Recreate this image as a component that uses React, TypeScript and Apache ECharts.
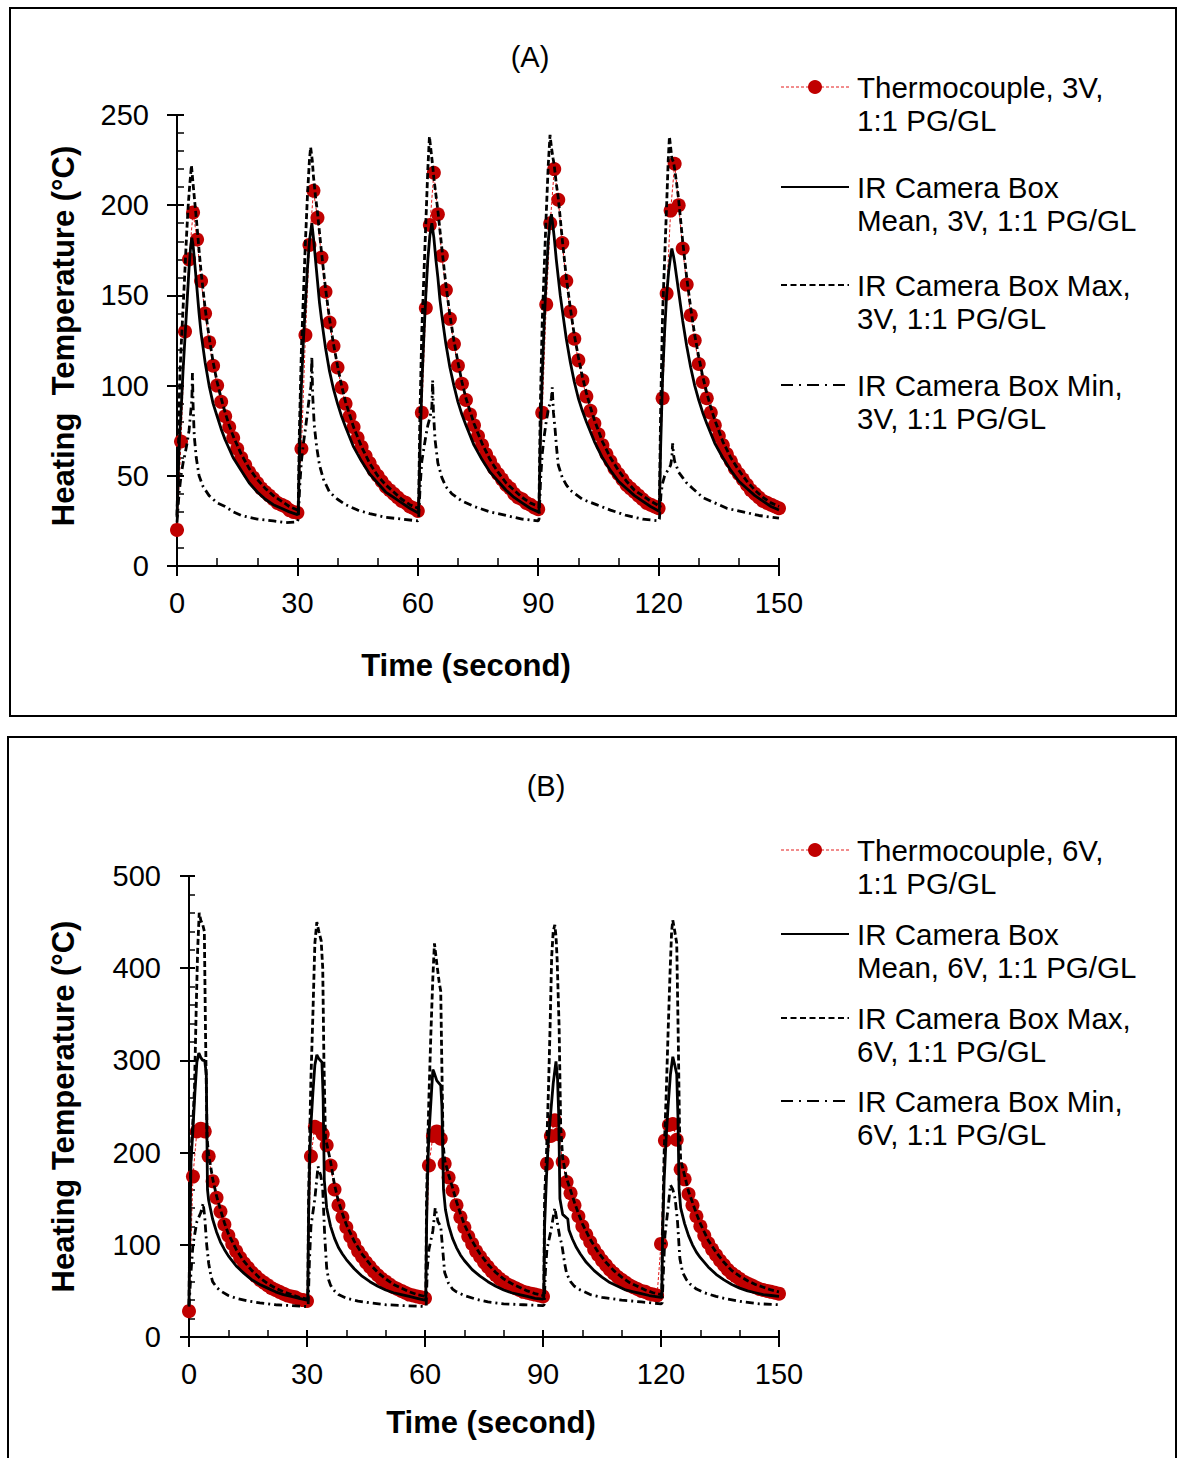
import React, { useEffect, useRef } from 'react';
import * as echarts from 'echarts';

const FONT = '"Liberation Sans", Arial, Helvetica, sans-serif';

// ---------- Panel A (3V) ----------
const A_TITLE = '(A)';
const A_NAMES = ['Thermocouple, 3V,\n1:1 PG/GL', 'IR Camera Box\nMean, 3V, 1:1 PG/GL', 'IR Camera Box Max,\n3V, 1:1 PG/GL', 'IR Camera Box Min,\n3V, 1:1 PG/GL'];
const A_Y_TICKS = { min: 0, max: 250, interval: 50 };

const A_TC: number[][] = [
  [0,20],[1,69],[2,130],[3,170],[4,196],[5,181],[6,158],[7,140],[8,124],[9,111],[10,100],[11,91],[12,83],[13,77],[14,71],[15,65],[16,60],[17,56],[18,52],[19,49],[20,46],[21,43],[22,41],[23,39],[24,37],[25,35],[26,34],[27,33],[28,31],[29,30],[30,29.5],
  [31,65],[32,128],[33,178],[34,208],[35,193],[36,171],[37,152],[38,135],[39,122],[40,110],[41,99],[42,90],[43,83],[44,77],[45,71],[46,66],[47,61],[48,57],[49,53],[50,50],[51,47],[52,44],[53,42],[54,40],[55,38],[56,36],[57,35],[58,33],[59,32],[60,30.5],
  [61,85],[62,143],[63,189],[64,218],[65,195],[66,172],[67,153],[68,137],[69,123],[70,111],[71,101],[72,92],[73,84],[74,78],[75,72],[76,67],[77,62],[78,58],[79,54],[80,51],[81,48],[82,45],[83,43],[84,40],[85,38],[86,37],[87,35],[88,34],[89,32.5],[90,31.5],
  [91,85],[92,145],[93,190],[94,220],[95,203],[96,179],[97,158],[98,141],[99,126],[100,114],[101,103],[102,94],[103,86],[104,79],[105,73],[106,67],[107,62],[108,58],[109,54],[110,51],[111,48],[112,45],[113,43],[114,41],[115,39],[116,37],[117,35],[118,34],[119,33],[120,32],
  [121,93],[122,151],[123,197],[124,223],[125,200],[126,176],[127,156],[128,139],[129,125],[130,112],[131,102],[132,93],[133,85],[134,78],[135,72],[136,67],[137,62],[138,58],[139,54],[140,51],[141,48],[142,45],[143,42],[144,40],[145,38],[146,36],[147,35],[148,34],[149,33],[150,32],
];

const A_MEAN: number[][] = [
  [0,27],[0.3,50],[0.6,70],[1,85],[1.5,108],[2,127],[2.5,146],[3,165],[3.4,177],[3.7,182],[4,178],[4.5,166],[5,153],[5.5,140],[6,129],[7,113],[8,100],[9,90],[10,83],[11,76],[12,70],[14,60],[16,53],[18,46],[20,41],[22,37],[24,34],[26,32],[28,30],[30,28.5],
  [30.2,29],[30.5,60],[31,100],[31.5,125],[32,145],[32.5,165],[33,180],[33.6,190],[34,182],[34.5,170],[35,158],[35.5,146],[36,137],[37,121],[38,108],[39,98],[40,90],[41,83],[42,77],[44,66],[46,58],[48,51],[50,46],[52,41],[54,38],[56,35],[58,32],[60,29.5],
  [60.2,30],[60.5,60],[61,100],[61.5,127],[62,150],[62.5,170],[63,183],[63.5,190],[64,182],[64.5,170],[65,160],[65.5,148],[66,139],[67,123],[68,110],[69,100],[70,91],[71,84],[72,78],[74,67],[76,59],[78,52],[80,47],[82,42],[84,38],[86,35],[88,32],[90,30],
  [90.2,30],[90.5,65],[91,105],[91.5,135],[92,160],[92.5,180],[93,192],[93.3,195],[93.7,188],[94,182],[94.5,170],[95,160],[95.5,150],[96,142],[97,126],[98,113],[99,102],[100,93],[101,86],[102,80],[104,69],[106,60],[108,53],[110,47],[112,43],[114,39],[116,36],[118,33],[120,30.5],
  [120.2,31],[120.5,65],[121,105],[121.5,130],[122,150],[122.5,163],[123,172],[123.3,176],[123.7,172],[124,168],[124.5,160],[125,152],[125.5,144],[126,136],[127,122],[128,110],[129,100],[130,92],[131,85],[132,79],[134,68],[136,60],[138,53],[140,47],[142,43],[144,39],[146,36],[148,33],[150,31],
];

const A_MAX: number[][] = [
  [0,28],[0.3,60],[0.7,105],[1,120],[1.6,147],[2,165],[2.4,184],[2.8,200],[3.2,212],[3.6,222],[4,212],[4.5,200],[5,188],[5.5,175],[6,163],[7,143],[8,127],[9,113],[10,102],[11,93],[12,85],[13,78],[14,72],[16,62],[18,54],[20,48],[22,43],[24,39],[26,36],[28,33],[30,31],
  [30.2,32],[30.5,75],[31,120],[31.5,150],[32,180],[32.5,205],[33,225],[33.3,232],[33.7,225],[34,216],[34.5,205],[35,196],[36,174],[37,154],[38,137],[39,123],[40,111],[41,100],[42,91],[43,84],[44,77],[46,66],[48,57],[50,50],[52,45],[54,41],[56,37],[58,34],[60,32],
  [60.2,32],[60.5,80],[61,130],[61.5,160],[62,190],[62.5,220],[62.9,238],[63.3,230],[63.7,222],[64,215],[64.5,206],[65,197],[66,176],[67,156],[68,139],[69,125],[70,113],[71,102],[72,93],[73,86],[74,79],[76,68],[78,59],[80,52],[82,46],[84,42],[86,38],[88,35],[90,33],
  [90.2,33],[90.5,85],[91,135],[91.5,165],[92,195],[92.5,222],[92.95,239],[93.3,232],[93.7,226],[94,222],[94.5,212],[95,204],[96,181],[97,160],[98,143],[99,128],[100,116],[101,105],[102,96],[103,88],[104,81],[106,69],[108,60],[110,53],[112,47],[114,42],[116,39],[118,36],[120,33.5],
  [120.2,34],[120.5,85],[121,140],[121.5,170],[122,200],[122.4,225],[122.7,238],[123,232],[123.3,226],[123.7,224],[124,220],[124.5,212],[125,203],[126,180],[127,160],[128,143],[129,128],[130,116],[131,105],[132,96],[133,88],[134,81],[136,69],[138,60],[140,53],[142,47],[144,42],[146,38],[148,35],[150,33],
];

const A_MIN: number[][] = [
  [0,24],[0.5,40],[1,50],[1.5,57],[2,62],[2.5,68],[3,75],[3.4,85],[3.7,92],[3.85,107],[4,90],[4.3,72],[4.8,60],[5.5,50],[6.5,44],[8,39],[10,35],[12,33],[14,30],[16,28],[18,27],[20,26],[24,25],[27,24],[30,24.5],
  [30.2,26],[30.6,45],[31,58],[31.5,68],[32,76],[32.5,85],[33,94],[33.4,100],[33.6,116],[33.8,95],[34.2,78],[34.8,66],[35.5,56],[36.5,48],[38,41],[40,37],[42,34],[45,31],[48,29],[52,27],[56,26],[60,25],
  [60.2,26],[60.6,45],[61,58],[61.5,65],[62,72],[62.5,78],[63,82],[63.5,88],[63.7,103],[63.9,85],[64.3,70],[65,57],[66,49],[67,44],[68.5,40],[71,36],[74,33],[78,30],[82,28],[86,26],[90,25],
  [90.2,26],[90.6,48],[91,62],[91.5,72],[92,80],[92.6,88],[93,90],[93.3,93],[93.5,99],[93.8,85],[94.2,76],[94.6,65],[95,56],[96,49],[97,45],[98,42],[101,37],[104.5,34],[108,31],[112,28],[116,26],[120,25],
  [120.2,26],[120.6,40],[121,46],[121.5,50],[122,52],[122.6,54],[123,56],[123.3,60],[123.5,68],[123.7,62],[124,58],[124.5,55],[125,52],[126,49],[127,46],[128.5,43],[131,38],[134,35],[137,32],[141,30],[145,28],[150,26.5],
];

// ---------- Panel B (6V) ----------
const B_TITLE = '(B)';
const B_NAMES = ['Thermocouple, 6V,\n1:1 PG/GL', 'IR Camera Box\nMean, 6V, 1:1 PG/GL', 'IR Camera Box Max,\n6V, 1:1 PG/GL', 'IR Camera Box Min,\n6V, 1:1 PG/GL'];
const B_Y_TICKS = { min: 0, max: 500, interval: 100 };

const B_TC: number[][] = [
  [0,28],[1,174],[2,223],[3,226],[4,223],[5,196],[6,169],[7,151],[8,136],[9,122],[10,110],[11,101],[12,93],[13,86],[14,80],[15,75],[16,70],[17,66],[18,62],[19,59],[20,56],[21,53],[22,51],[23,49],[24,47],[25,45],[26,44],[27,43],[28,41],[29,40],[30,39],
  [31,196],[32,228],[33,226],[34,220],[35,208],[36,186],[37,160],[38,143],[39,130],[40,119],[41,109],[42,101],[43,93],[44,87],[45,81],[46,76],[47,71],[48,67],[49,63],[50,60],[51,57],[52,54],[53,52],[54,50],[55,48],[56,46],[57,45],[58,44],[59,43],[60,42],
  [61,186],[62,218],[63,223],[64,215],[65,188],[66,173],[67,159],[68,143],[69,130],[70,119],[71,109],[72,101],[73,93],[74,87],[75,81],[76,76],[77,71],[78,67],[79,63],[80,60],[81,57],[82,55],[83,53],[84,51],[85,49],[86,48],[87,47],[88,46],[89,45],[90,44],
  [91,188],[92,218],[93,235],[94,220],[95,190],[96,168],[97,156],[98,143],[99,131],[100,120],[101,111],[102,103],[103,95],[104,89],[105,83],[106,78],[107,73],[108,69],[109,65],[110,62],[111,59],[112,56],[113,54],[114,52],[115,50],[116,49],[117,47],[118,46],[119,45],
  [120,101],[121,213],[122,230],[123,231],[124,214],[125,182],[126,171],[127,155],[128,143],[129,131],[130,120],[131,110],[132,102],[133,95],[134,89],[135,83],[136,78],[137,73],[138,69],[139,66],[140,63],[141,60],[142,58],[143,56],[144,54],[145,52],[146,51],[147,50],[148,49],[149,48],[150,47],
];

const B_MEAN: number[][] = [
  [0,35],[0.2,110],[0.5,190],[1,225],[1.5,265],[2,298],[2.5,308],[3,303],[3.5,300],[4,300],[4.4,285],[4.7,160],[5,148],[6,128],[7,114],[8,103],[9,95],[10,88],[12,77],[14,69],[16,62],[18,57],[20,53],[22,49],[24,46],[26,44],[28,42],[30,40],
  [30.2,40],[30.4,130],[30.7,195],[31,230],[31.5,265],[32,295],[32.5,306],[33,302],[33.8,298],[34.1,260],[34.4,170],[35,140],[36,120],[37,107],[38,97],[39,90],[40,84],[42,74],[44,66],[46,60],[48,55],[50,51],[52,48],[54,46],[56,44],[58,42],[60,40],
  [60.2,41],[60.4,120],[60.7,185],[61,220],[61.5,255],[62,290],[62.3,287],[63,278],[64,273],[64.3,250],[64.7,160],[65.2,138],[66,121],[67,107],[68,97],[69,89],[70,83],[72,73],[74,66],[76,60],[78,55],[80,51],[82,48],[84,46],[86,44],[88,42],[90,41],
  [90.2,42],[90.4,120],[90.9,175],[91.4,215],[92,245],[92.6,275],[93.3,299],[93.7,280],[94,240],[94.3,150],[95,133],[96.3,128],[96.6,116],[97.5,106],[98.5,97],[99.5,90],[101,81],[103,72],[105,65],[107,59],[109,55],[111,51],[113,49],[115,47],[117,45],[120,43],
  [120.2,43],[120.4,110],[120.8,170],[121.3,215],[121.8,250],[122.4,285],[123,304],[123.5,295],[124,285],[124.3,240],[124.6,160],[125,140],[126,123],[127,110],[128,100],[129,92],[130,86],[132,76],[134,68],[136,62],[138,57],[140,53],[142,50],[144,48],[146,46],[148,45],[150,44],
];

const B_MAX: number[][] = [
  [0,35],[0.2,120],[0.5,200],[1,235],[1.4,270],[1.8,350],[2.2,420],[2.6,460],[3,452],[3.5,447],[3.9,440],[4.2,330],[4.6,215],[5,198],[6,172],[7,153],[8,138],[9,124],[10,112],[12,95],[14,82],[16,72],[18,64],[20,58],[22,53],[24,49],[26,46],[28,43],[30,41],
  [30.2,42],[30.4,150],[30.7,220],[31,280],[31.5,350],[32,427],[32.5,450],[33,440],[33.6,430],[34,400],[34.3,300],[34.7,215],[35,210],[36,190],[37,165],[38,147],[39,134],[40,122],[42,104],[44,90],[46,79],[48,70],[50,63],[52,57],[54,53],[56,49],[58,46],[60,44],
  [60.2,43],[60.4,150],[60.7,210],[61,260],[61.5,330],[62,390],[62.4,427],[63,405],[63.6,385],[64,375],[64.3,290],[64.6,210],[65,192],[66,176],[67,162],[68,147],[69,134],[70,122],[72,104],[74,90],[76,79],[78,70],[80,63],[82,58],[84,54],[86,50],[88,47],[90,45],
  [90.2,45],[90.4,150],[90.9,200],[91.4,270],[91.8,336],[92.2,412],[92.6,440],[93,447],[93.3,435],[93.6,409],[94.1,336],[94.5,228],[95,194],[96,172],[97,159],[98,146],[99,134],[100,123],[102,106],[104,92],[106,81],[108,72],[110,65],[112,59],[114,55],[116,51],[118,48],[120,46],
  [120.2,46],[120.4,120],[120.8,200],[121.3,260],[121.8,330],[122.3,395],[122.7,440],[123,452],[123.5,440],[124,427],[124.4,320],[124.7,228],[125,192],[126,175],[127,158],[128,146],[129,134],[130,123],[132,105],[134,92],[136,81],[138,72],[140,66],[142,61],[144,57],[146,54],[148,51],[150,49],
];

const B_MIN: number[][] = [
  [0,33],[0.5,70],[1,100],[2,125],[3,135],[3.6,145],[4,130],[4.5,100],[5,80],[5.5,68],[6,60],[7,54],[8,50],[10,45],[12,42],[15,39],[18,37],[22,35],[26,34],[30,33],
  [30.3,34],[30.6,80],[31,120],[32,150],[32.8,185],[33.5,175],[34,160],[34.5,110],[35,75],[35.5,62],[36,56],[37,50],[38,46],[40,42],[43,39],[46,37],[50,35],[55,34],[60,33],
  [60.3,34],[60.6,75],[61,95],[62,115],[62.6,140],[63.3,125],[64,120],[64.5,95],[65,70],[66,58],[67,52],[68,49],[70,45],[73,41],[76,38],[80,36],[85,35],[90,34],
  [90.3,35],[90.6,70],[91,95],[92,115],[92.6,130],[93,140],[93.6,125],[94.2,110],[94.8,100],[95.5,80],[96,69],[97,60],[98,55],[99.5,51],[102,46],[105,43],[110,40],[115,38],[120,36],
  [120.3,37],[120.6,70],[121,110],[121.8,140],[122.4,165],[123,160],[123.6,150],[124.2,125],[124.8,85],[125.5,70],[126.5,62],[127.5,57],[129,52],[131,48],[134,44],[137,41],[141,38],[145,36],[150,35],
];

const X_TICKS = { min: 0, max: 150, interval: 30 };
const X_NAME = 'Time (second)';
const A_Y_NAME = 'Heating  Temperature (°C)';
const B_Y_NAME = 'Heating Temperature (°C)';

const TC_COLOR = '#C00000';
const TC_LINE = '#E41A1A';
const MEAN_DASH = 'solid';
const MAX_DASH = [6, 3];
const MIN_DASH = [8, 4, 2, 4];

type PanelCfg = {
  grid: { left: number; top: number; width: number; height: number };
  yTicks: { min: number; max: number; interval: number };
  yName: string;
  yNameGap: number;
  yNamePad: number[];
  xNameGap: number;
  xNamePad: number[];
  yOut: number; yIn: number; xOut: number; xIn: number;
  yMinorSplit: number;
};

function axesFor(cfg: PanelCfg, gridIndex: number) {
  const tickLine = { color: '#000', width: 2 };
  const xBase = { type: 'value', gridIndex, ...X_TICKS, position: 'bottom', splitLine: { show: false } };
  const yBase = { type: 'value', gridIndex, ...cfg.yTicks, position: 'left', splitLine: { show: false } };
  const labelStyle = { color: '#000', fontSize: 29, fontFamily: FONT };
  const nameStyle = { color: '#000', fontSize: 31, fontWeight: 'bold', fontFamily: FONT };
  const x = [
    {
      ...xBase,
      axisLine: { show: true, onZero: false, lineStyle: tickLine },
      axisTick: { show: true, inside: false, length: cfg.xOut, lineStyle: tickLine },
      minorTick: { show: false },
      axisLabel: { show: true, margin: 22, ...labelStyle },
      name: X_NAME, nameLocation: 'middle', nameGap: cfg.xNameGap,
      nameTextStyle: { ...nameStyle, padding: cfg.xNamePad },
    },
    {
      ...xBase,
      axisLine: { show: false, onZero: false },
      axisTick: { show: true, inside: true, length: cfg.xIn, lineStyle: tickLine },
      minorTick: { show: true, splitNumber: 3, length: cfg.xIn, lineStyle: { color: '#000', width: 1.5 } },
      axisLabel: { show: false },
    },
  ];
  const y = [
    {
      ...yBase,
      axisLine: { show: true, onZero: false, lineStyle: tickLine },
      axisTick: { show: true, inside: false, length: cfg.yOut, lineStyle: tickLine },
      minorTick: { show: false },
      axisLabel: { show: true, margin: 28, ...labelStyle },
      name: cfg.yName, nameLocation: 'middle', nameGap: cfg.yNameGap,
      nameTextStyle: { ...nameStyle, padding: cfg.yNamePad },
    },
    {
      ...yBase,
      axisLine: { show: false, onZero: false },
      axisTick: { show: true, inside: true, length: cfg.yIn, lineStyle: tickLine },
      minorTick: { show: true, splitNumber: cfg.yMinorSplit, length: cfg.yIn, lineStyle: { color: '#000', width: 1.5 } },
      axisLabel: { show: false },
    },
  ];
  return { x, y };
}

function seriesFor(names: string[], tc: number[][], mean: number[][], mx: number[][], mn: number[][], axisIndex: number) {
  const common = { type: 'line', xAxisIndex: axisIndex, yAxisIndex: axisIndex, silent: true, animation: false };
  return [
    {
      ...common, name: names[0], data: tc, symbol: 'circle', symbolSize: 14, showSymbol: true,
      itemStyle: { color: TC_COLOR }, lineStyle: { color: TC_LINE, width: 1, type: [3, 2] }, z: 2,
    },
    { ...common, name: names[1], data: mean, symbol: 'none', lineStyle: { color: '#000', width: 2.8, type: MEAN_DASH }, z: 3 },
    { ...common, name: names[2], data: mx, symbol: 'none', lineStyle: { color: '#000', width: 2.8, type: MAX_DASH }, z: 4 },
    { ...common, name: names[3], data: mn, symbol: 'none', lineStyle: { color: '#000', width: 2.8, type: MIN_DASH }, z: 5 },
  ];
}

function legendGraphics(names: string[], iconYs: number[]) {
  const els: any[] = [];
  const x1 = 781, x2 = 849, tx = 857, lh = 33;
  const dashes: any[] = [[3, 2], null, [6, 3.5], [12, 6, 2, 6]];
  iconYs.forEach((yy, i) => {
    els.push({
      type: 'line', silent: true,
      shape: { x1, y1: yy, x2, y2: yy },
      style: { stroke: i === 0 ? TC_LINE : '#000', lineWidth: i === 0 ? 1 : 2.2, lineDash: dashes[i] || undefined },
    });
    if (i === 0) {
      els.push({ type: 'circle', silent: true, shape: { cx: (x1 + x2) / 2, cy: yy, r: 7 }, style: { fill: TC_COLOR } });
    }
    els.push({
      type: 'text', silent: true, x: tx, y: yy - lh / 2,
      style: {
        text: names[i], fill: '#000', fontSize: 29.5, fontFamily: FONT, lineHeight: lh,
        align: 'left', textAlign: 'left', verticalAlign: 'top', textVerticalAlign: 'top',
      },
    });
  });
  return els;
}

const PANEL_A: PanelCfg = {
  grid: { left: 177, top: 115, width: 602, height: 451 },
  yTicks: A_Y_TICKS, yName: A_Y_NAME, yNameGap: 98, yNamePad: [0, 0, 0, 9],
  xNameGap: 84, xNamePad: [0, 24, 0, 0],
  yOut: 10, yIn: 7, xOut: 10, xIn: 8, yMinorSplit: 5,
};
const PANEL_B: PanelCfg = {
  grid: { left: 189, top: 876, width: 590, height: 461 },
  yTicks: B_Y_TICKS, yName: B_Y_NAME, yNameGap: 110, yNamePad: [0, 0, 0, 0],
  xNameGap: 70, xNamePad: [0, 0, 0, 14],
  yOut: 9, yIn: 6, xOut: 10, xIn: 7, yMinorSplit: 5,
};

export default function App() {
  const ref = useRef<HTMLDivElement>(null);
  useEffect(() => {
    if (!ref.current) return;
    const chart = echarts.init(ref.current, undefined, { renderer: 'svg' });
    const a = axesFor(PANEL_A, 0);
    const b = axesFor(PANEL_B, 1);
    const option: any = {
      animation: false,
      backgroundColor: '#fff',
      textStyle: { fontFamily: FONT },
      grid: [
        { ...PANEL_A.grid, containLabel: false, outerBoundsMode: 'none' },
        { ...PANEL_B.grid, containLabel: false, outerBoundsMode: 'none' },
      ],
      xAxis: [...a.x, ...b.x],
      yAxis: [...a.y, ...b.y],
      series: [
        ...seriesFor(A_NAMES, A_TC, A_MEAN, A_MAX, A_MIN, 0),
        ...seriesFor(B_NAMES, B_TC, B_MEAN, B_MAX, B_MIN, 2),
      ],
      graphic: [
        { type: 'rect', silent: true, shape: { x: 10, y: 8, width: 1166, height: 708 }, style: { fill: 'none', stroke: '#000', lineWidth: 2 } },
        { type: 'rect', silent: true, shape: { x: 8, y: 737, width: 1168, height: 740 }, style: { fill: 'none', stroke: '#000', lineWidth: 2 } },
        { type: 'text', silent: true, x: 530, y: 57, style: { text: A_TITLE, fill: '#000', fontSize: 29, fontFamily: FONT, align: 'center', textAlign: 'center', verticalAlign: 'middle', textVerticalAlign: 'middle' } },
        { type: 'text', silent: true, x: 546, y: 786, style: { text: B_TITLE, fill: '#000', fontSize: 29, fontFamily: FONT, align: 'center', textAlign: 'center', verticalAlign: 'middle', textVerticalAlign: 'middle' } },
        ...legendGraphics(A_NAMES, [87, 187, 285, 385]),
        ...legendGraphics(B_NAMES, [850, 934, 1018, 1101]),
      ],
    };
    chart.setOption(option);
    return () => chart.dispose();
  }, []);
  return <div ref={ref} style={{ position: 'absolute', left: 0, top: 0, width: 1179, height: 1458 }} />;
}
